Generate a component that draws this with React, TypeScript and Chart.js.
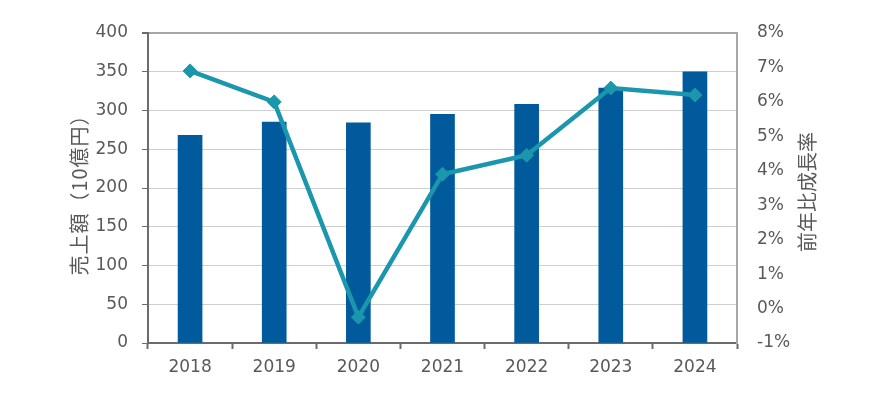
import React, { useEffect, useRef } from 'react';
import { Chart, registerables } from 'chart.js';

Chart.register(...registerables);

const categories = ['2018', '2019', '2020', '2021', '2022', '2023', '2024'];
const sales = [268, 285, 284, 295, 308, 329, 350];
const growth = [6.9, 6.0, -0.25, 3.9, 4.45, 6.4, 6.2];
const leftTitle = '売上額（10億円）';
const rightTitle = '前年比成長率';

const TEXT = '#595959';
const TICK_FONT = { family: '"DejaVu Sans", sans-serif', size: 17 };

const titlePlugin = {
  id: 'axisTitles',
  afterDraw(chart: any) {
    const { ctx, chartArea } = chart;
    const midY = (chartArea.top + chartArea.bottom) / 2;
    ctx.save();
    ctx.fillStyle = TEXT;
    ctx.font = '20px "Noto Sans CJK JP", sans-serif';
    (ctx as any).letterSpacing = '1px';
    ctx.textAlign = 'center';
    ctx.textBaseline = 'middle';
    ctx.translate(chartArea.left - 69, midY + 2);
    ctx.rotate(-Math.PI / 2);
    ctx.fillText(leftTitle, 0, 0);
    ctx.restore();
    ctx.save();
    ctx.fillStyle = TEXT;
    ctx.font = '20px "Noto Sans CJK JP", sans-serif';
    ctx.textAlign = 'center';
    ctx.textBaseline = 'middle';
    ctx.translate(chartArea.right + 70, midY + 4);
    ctx.rotate(-Math.PI / 2);
    ctx.fillText(rightTitle, 0, 0);
    ctx.restore();
  },
};

export default function App() {
  const ref = useRef<HTMLCanvasElement>(null);
  useEffect(() => {
    if (!ref.current) return;
    const chart = new Chart(ref.current, {
      type: 'bar',
      data: {
        labels: categories,
        datasets: [
          {
            type: 'line',
            label: rightTitle,
            data: growth,
            yAxisID: 'y1',
            borderColor: '#1a96ad',
            backgroundColor: '#1a96ad',
            borderWidth: 4.5,
            pointStyle: 'rectRot',
            pointRadius: 7,
            pointBorderWidth: 1,
            pointBackgroundColor: '#1a96ad',
            pointBorderColor: '#1a96ad',
            tension: 0,
            order: 0,
          } as any,
          {
            type: 'bar',
            label: leftTitle,
            data: sales,
            yAxisID: 'y',
            backgroundColor: '#005a9c',
            barThickness: 24,
            order: 1,
          },
        ],
      },
      options: {
        responsive: false,
        animation: false,
        layout: { padding: { top: 33, left: 0, right: 0, bottom: 0 } },
        plugins: { legend: { display: false }, tooltip: { enabled: false } },
        scales: {
          x: {
            grid: {
              offset: true,
              drawOnChartArea: false,
              drawTicks: true,
              tickLength: 6,
              tickColor: '#6b6b6b',
              tickWidth: 2,
            },
            border: { color: '#6b6b6b', width: 2 },
            ticks: { color: TEXT, font: TICK_FONT, padding: 8 },
            afterFit: (s: any) => {
              s.height = 53;
            },
          },
          y: {
            position: 'left',
            min: 0,
            max: 400,
            ticks: { stepSize: 50, padding: 14, color: TEXT, font: TICK_FONT },
            grid: {
              color: (c: any) => (c.tick && c.tick.value === 400 ? '#a6a6a6' : '#cfcfcf'),
              tickColor: '#6b6b6b',
              tickLength: 6,
              lineWidth: (c: any) => (c.tick && c.tick.value === 400 ? 2 : 1),
            },
            border: { color: '#6b6b6b', width: 2 },
            afterFit: (s: any) => {
              s.width = 148;
            },
          },
          y1: {
            position: 'right',
            min: -1,
            max: 8,
            ticks: {
              stepSize: 1,
              padding: 20,
              color: TEXT,
              font: TICK_FONT,
              callback: (v: any) => `${v}%`,
            },
            grid: { display: false, drawTicks: false },
            border: { color: '#a6a6a6', width: 2 },
            afterFit: (s: any) => {
              s.width = 151;
            },
          },
        },
      },
      plugins: [titlePlugin],
    });
    return () => chart.destroy();
  }, []);
  return (
    <div style={{ position: 'absolute', left: 0, top: 0, width: 888, height: 396, background: '#fff' }}>
      <canvas ref={ref} width={888} height={396} />
    </div>
  );
}
